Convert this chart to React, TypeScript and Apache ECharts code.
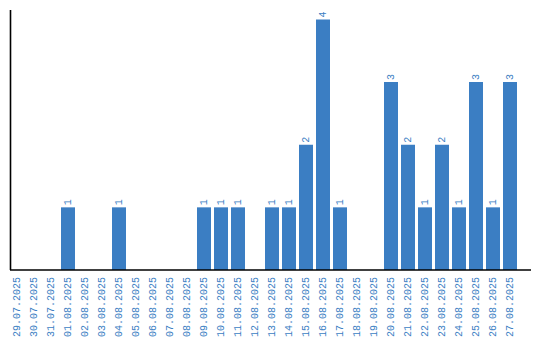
import React, { useEffect, useRef } from "react";
import * as echarts from "echarts";

const categories = [
  "29.07.2025", "30.07.2025", "31.07.2025", "01.08.2025", "02.08.2025",
  "03.08.2025", "04.08.2025", "05.08.2025", "06.08.2025", "07.08.2025",
  "08.08.2025", "09.08.2025", "10.08.2025", "11.08.2025", "12.08.2025",
  "13.08.2025", "14.08.2025", "15.08.2025", "16.08.2025", "17.08.2025",
  "18.08.2025", "19.08.2025", "20.08.2025", "21.08.2025", "22.08.2025",
  "23.08.2025", "24.08.2025", "25.08.2025", "26.08.2025", "27.08.2025",
];
const counts = [
  0, 0, 0, 1, 0,
  0, 1, 0, 0, 0,
  0, 1, 1, 1, 0,
  1, 1, 2, 4, 1,
  0, 0, 3, 2, 1,
  2, 1, 3, 1, 3,
];

const BLUE = "#3b7ec3";
const MONO = "'Liberation Mono', 'DejaVu Sans Mono', monospace";

export default function App() {
  const ref = useRef<HTMLDivElement>(null);
  useEffect(() => {
    if (!ref.current) return;
    const chart = echarts.init(ref.current, null, { renderer: "svg" });
    chart.setOption({
      animation: false,
      grid: { left: 8.5, top: 10, width: 510, bottom: 70, containLabel: false },
      xAxis: {
        type: "category",
        data: categories,
        axisLine: { show: false },
        axisTick: { show: false },
        axisLabel: {
          interval: 0,
          rotate: 90,
          margin: 7,
          color: BLUE,
          fontFamily: MONO,
          fontSize: 10,
        },
      },
      yAxis: {
        type: "value",
        min: 0,
        max: 4.15,
        axisLine: { show: false },
        axisTick: { show: false },
        axisLabel: { show: false },
        splitLine: { show: false },
      },
      graphic: [
        {
          type: "line",
          shape: { x1: 10.5, y1: 10, x2: 10.5, y2: 270 },
          style: { stroke: "#000", lineWidth: 1.6 },
          z: 10,
        },
        {
          type: "line",
          shape: { x1: 10, y1: 270, x2: 531, y2: 270 },
          style: { stroke: "#000", lineWidth: 1.6 },
          z: 10,
        },
      ],
      series: [
        {
          type: "bar",
          data: counts,
          barWidth: 14,
          itemStyle: { color: BLUE },
          label: {
            show: true,
            position: "top",
            rotate: 90,
            align: "left",
            verticalAlign: "middle",
            distance: 2,
            color: BLUE,
            fontFamily: MONO,
            fontSize: 10,
            formatter: (p: any) => (p.value > 0 ? String(p.value) : ""),
          },
        },
      ],
    });
    return () => chart.dispose();
  }, []);
  return (
    <div
      ref={ref}
      style={{ position: "fixed", left: 0, top: 0, width: 540, height: 340, background: "#fff" }}
    />
  );
}
